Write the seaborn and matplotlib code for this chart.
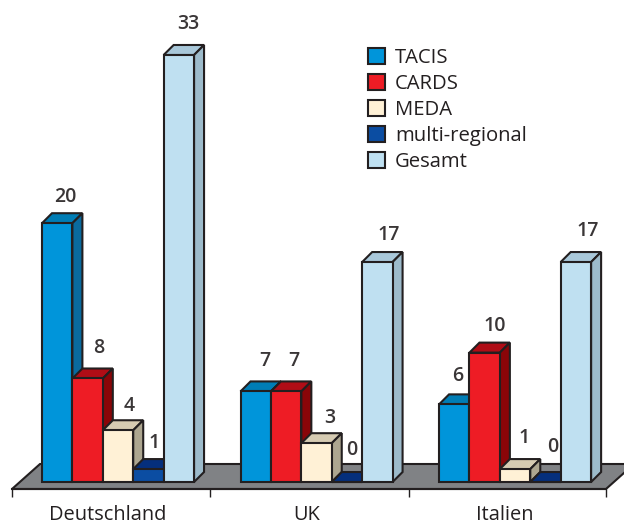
import numpy as np
import pandas as pd
import seaborn as sns
import matplotlib.pyplot as plt
from matplotlib.patches import Polygon

countries = ["Deutschland", "UK", "Italien"]
programmes = ["TACIS", "CARDS", "MEDA", "multi-regional", "Gesamt"]
tacis = [20, 7, 6]
cards = [8, 7, 10]
meda = [4, 3, 1]
multi = [1, 0, 0]
gesamt = [33, 17, 17]

front_colors = ["#0095da", "#ee1c25", "#fff1d6", "#0b4da2", "#bfe0f1"]
top_colors = ["#007db5", "#b00d16", "#d6cbb2", "#052f7c", "#a9c8da"]
side_colors = ["#0a6a9e", "#8a0508", "#ada690", "#052f7c", "#9dbbcb"]
edge = "#231f20"
floor_color = "#808285"
line = 1.5

# label nudges in pixels from the top of each bar
nudge_x = [[8, 9, 3], [11, 8, 10], [11, 13, 9], [6, 5, 7], [9, 11, 12]]
nudge_y = [[26, 30, 28], [30, 30, 27], [24, 25, 31], [26, 32, 35], [31, 27, 31]]

df = pd.DataFrame({
    "land": countries * 5,
    "programm": np.repeat(programmes, 3),
    "wert": tacis + cards + meda + multi + gesamt,
})

sns.set_style("white")
plt.rcParams["font.family"] = ["Open Sans", "DejaVu Sans"]

fig = plt.figure(figsize=(6.24, 5.25), dpi=100)
ax = fig.add_axes([12 / 624, 36 / 525, 594 / 624, 489 / 525])

sns.barplot(data=df, x="land", y="wert", hue="programm", hue_order=programmes,
            palette=front_colors, saturation=1, width=0.766, gap=0,
            edgecolor=edge, linewidth=line, ax=ax, legend=False)

ax.set_xlim(-0.534, 2.458)
ax.set_ylim(-0.54, 37.25)

# depth of the fake 3d boxes, in data units (10 px each way)
depth_x = 10 / 198.5
depth_y = 10 / 12.94

for i, bars in enumerate(ax.containers):
    for j, bar in enumerate(bars):
        x0, w, h = bar.get_x(), bar.get_width(), bar.get_height()
        x1 = x0 + w
        top = [(x0, h), (x1, h), (x1 + depth_x, h + depth_y), (x0 + depth_x, h + depth_y)]
        side = [(x1, 0), (x1 + depth_x, depth_y), (x1 + depth_x, h + depth_y), (x1, h)]
        ax.add_patch(Polygon(top, fc=top_colors[i], ec=edge, lw=line, zorder=3 + i, clip_on=False))
        if h > 0:
            ax.add_patch(Polygon(side, fc=side_colors[i], ec=edge, lw=line, zorder=3 + i, clip_on=False))
        bar.set_zorder(3.5 + i)
        ax.annotate(str(int(h)), (x0 + w / 2, h),
                    xytext=(nudge_x[i][j], nudge_y[i][j]), textcoords="offset pixels",
                    ha="center", va="center", fontsize=14, fontweight="semibold",
                    color="#3a3637", zorder=20)

# grey floor under the bars
xl, xr = ax.get_xlim()
yb = ax.get_ylim()[0]
floor_dx = 28 / 198.5
floor_dy = 25 / 12.94
ax.add_patch(Polygon([(xl, yb), (xr, yb), (xr + floor_dx, yb + floor_dy), (xl + floor_dx, yb + floor_dy)],
                     fc=floor_color, ec=edge, lw=line, zorder=1, clip_on=False))

sns.despine(ax=ax, left=True, top=True, right=True)
ax.spines["bottom"].set_color(edge)
ax.spines["bottom"].set_linewidth(line)
ax.set_xlabel("")
ax.set_ylabel("")
ax.set_yticks([])
ax.set_xticks(np.arange(3) - 0.05, countries)
ax.set_xticks([xl, 0.464, 1.464, xr], minor=True)
ax.tick_params(axis="x", which="major", length=0, pad=11.5, labelsize=14.4, labelcolor=edge)
ax.tick_params(axis="x", which="minor", bottom=True, length=6, width=1, color=edge)

handles = [bars[0] for bars in ax.containers]
ax.legend(handles, programmes, loc="upper left", bbox_to_anchor=(368 / 624, 1 - 48 / 525),
          bbox_transform=fig.transFigure, frameon=False, fontsize=14.6,
          handlelength=0.84, handleheight=0.84, handletextpad=0.5,
          labelspacing=0.29, borderpad=0, borderaxespad=0, labelcolor=edge)

fig.savefig("out.png", dpi=100)
